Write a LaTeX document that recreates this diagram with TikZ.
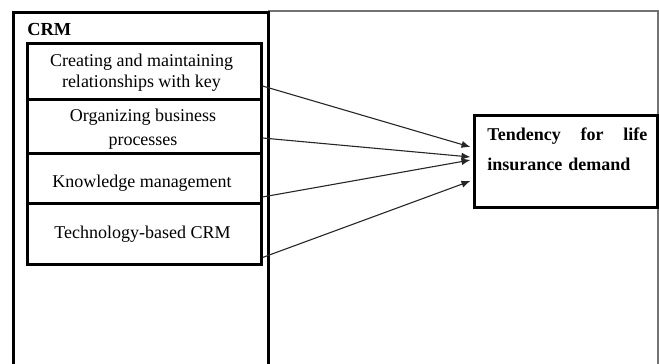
\documentclass[tikz,border=0pt]{standalone}
\usepackage{fontspec}
\setmainfont{Liberation Serif}
\usetikzlibrary{arrows.meta}
\begin{document}
\begin{tikzpicture}[x=0.5pt,y=-0.5pt,
  frame/.style={draw=black!55,line width=0.6pt},
  group/.style={draw=black,line width=1.5pt},
  factor/.style={draw=black,line width=1.5pt,rectangle,inner sep=0pt,
                 minimum width=117pt},
  target/.style={draw=black,line width=1.5pt,rectangle,inner sep=0pt,
                 minimum width=91.5pt,minimum height=46pt},
  lbl/.style={inner sep=0pt,align=center},
  link/.style={draw=black!85,line width=0.55pt,-{Latex[length=4.5pt,width=3.6pt]}}
]
\useasboundingbox (0,0) rectangle (659,364);
\clip (0,0) rectangle (659,364);

% thin outer frame on the right
\draw[frame] (268,11) -- (658,11) -- (658,380);

% CRM container
\draw[group] (13,12) rectangle (268,390);
\node[anchor=base west,inner sep=0pt,font=\fontsize{9.2}{11}\selectfont\bfseries] (crm) at (27,35) {CRM};

% CRM dimensions
\node[factor,minimum height=28pt]   (b1) at (144,71)    {};
\node[factor,minimum height=27pt]   (b2) at (144,126)   {};
\node[factor,minimum height=25pt]   (b3) at (144,178)   {};
\node[factor,minimum height=30.5pt] (b4) at (144,233.5) {};

\node[lbl,font=\fontsize{9}{10.5}\selectfont] (t1) at (141.5,72.5) {Creating and maintaining\\relationships with key};
\node[lbl,font=\fontsize{9}{12}\selectfont]   (t2) at (143,129)    {Organizing business\\processes};
\node[lbl,font=\fontsize{9}{11}\selectfont]   (t3) at (142,183)    {Knowledge management};
\node[lbl,font=\fontsize{9}{11}\selectfont]   (t4) at (142.5,234)  {Technology-based CRM};

% dependent variable
\node[target] (dv) at (565.5,161) {};
\node[anchor=north west,inner sep=0pt,text width=80pt,align=left,
      font=\fontsize{9}{15}\selectfont\bfseries] (tdv) at (487,127)
  {Tendency\hfill for\hfill life\\insurance demand};

% effects
\draw[link] ([yshift=-7.5pt]b1.east) -- ([xshift=-1pt,yshift=7pt]dv.west);
\draw[link] ([yshift=-6pt]b2.east)   -- ([xshift=-1pt,yshift=2pt]dv.west);
\draw[link] ([yshift=-9.5pt]b3.east) -- ([xshift=-1pt,yshift=0.5pt]dv.west);
\draw[link] ([yshift=-12pt]b4.east)  -- ([xshift=-1pt,yshift=-10pt]dv.west);
\end{tikzpicture}
\end{document}
